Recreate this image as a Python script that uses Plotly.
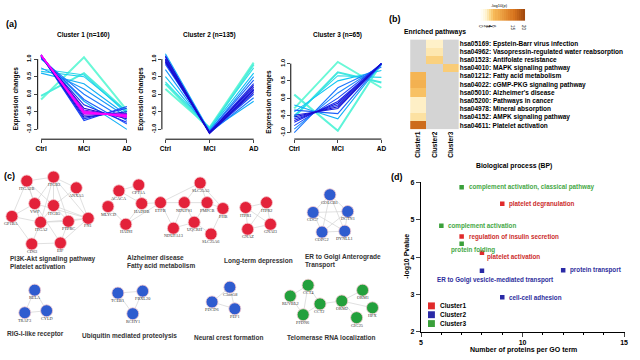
import plotly.graph_objects as go
from plotly.colors import sample_colorscale

W, H = 640, 360
FONT = "Arial, Liberation Sans, sans-serif"
SERIF = "Liberation Serif, Times New Roman, serif"

# ---------------- (a) expression profiles ----------------
stages = ["Ctrl", "MCI", "AD"]
c1_ctrl = [-0.15, -0.05, 0.72, 0.65, 0.60, 0.75, 1.05, 1.00, 1.05, 1.10, 1.10, 1.05, 1.10, 1.10, 1.12, 1.10, 1.12, 1.10, 1.12, 1.10, 1.11, 1.12, 1.10]
c1_mci = [1.05, 0.60, 0.55, 0.50, 0.30, 0.15, -0.20, 0.00, -0.15, -0.75, -0.70, -0.30, -0.65, -0.40, -0.60, -0.45, -0.55, -0.50, -0.52, -0.48, -0.56, -0.50, -0.53]
c1_ad = [-0.45, -0.50, -0.55, -0.50, -0.60, -0.65, -1.00, -0.75, -0.85, -0.35, -0.40, -0.80, -0.50, -0.70, -0.55, -0.65, -0.58, -0.62, -0.60, -0.66, -0.57, -0.63, -0.61]
c1_mem = [0.28, 0.32, 0.38, 0.40, 0.45, 0.48, 0.45, 0.52, 0.55, 0.58, 0.60, 0.62, 0.66, 0.70, 0.74, 0.78, 0.82, 0.86, 0.88, 0.90, 0.92, 0.94, 0.95]

c2_ctrl = [0.15, 0.30, 0.35, 0.50, 1.15, 0.70, 1.10, 0.85, 1.00, 0.90, 1.05, 0.95, 1.00, 0.98, 1.08, 0.92]
c2_mci = [-0.95, -1.00, -0.95, -1.00, -1.05, -1.05, -1.10, -1.05, -1.10, -1.08, -1.10, -1.08, -1.10, -1.12, -1.10, -1.09]
c2_ad = [0.90, 0.85, 0.75, 0.60, -0.20, 0.50, -0.10, 0.40, 0.00, 0.30, 0.10, 0.20, 0.15, 0.12, 0.05, 0.25]
c2_mem = [0.28, 0.32, 0.36, 0.42, 0.45, 0.48, 0.52, 0.55, 0.58, 0.60, 0.62, 0.64, 0.65, 0.66, 0.67, 0.68]

c3_ctrl = [-0.30, 0.10, -0.55, -0.50, -0.40, -0.20, -0.90, -1.00, -0.35, -0.80, -0.60, -0.70, -0.50, -0.65, -0.55]
c3_mci = [1.05, -0.95, 0.75, 0.65, 0.50, -0.60, 0.15, 0.30, -0.45, 0.00, -0.20, -0.10, -0.30, -0.15, -0.25]
c3_ad = [0.30, 1.00, 0.45, 0.60, 0.80, 1.00, 0.95, 0.90, 1.00, 1.00, 1.00, 1.00, 1.00, 1.00, 1.00]
c3_mem = [0.28, 0.30, 0.34, 0.38, 0.42, 0.45, 0.50, 0.52, 0.55, 0.58, 0.60, 0.62, 0.64, 0.66, 0.68]

cluster_titles = ["Cluster 1 (n=160)", "Cluster 2 (n=135)", "Cluster 3 (n=65)"]

# ---------------- (b) enriched pathways heatmap ----------------
heat_clusters = ["Cluster1", "Cluster2", "Cluster3"]
pathways = [
    "hsa05169: Epstein-Barr virus infection",
    "hsa04962: Vasopressin-regulated water reabsorption",
    "hsa01523: Antifolate resistance",
    "hsa04010: MAPK signaling pathway",
    "hsa01212: Fatty acid metabolism",
    "hsa04022: cGMP-PKG signaling pathway",
    "hsa05010: Alzheimer's disease",
    "hsa05200: Pathways in cancer",
    "hsa04978: Mineral absorption",
    "hsa04152: AMPK signaling pathway",
    "hsa04611: Platelet activation",
]
pw_cluster1 = [None, None, None, None, 6.5, 7.0, 5.5, 2.3, 2.3, 3.4, 16.0]
pw_cluster2 = [2.2, 3.0, 4.5, None, None, None, None, None, None, None, None]
pw_cluster3 = [None, None, None, 4.8, None, None, None, None, None, None, None]
cbar_ticks = [0, 2, 3, 4, 6, 15, 20]
cbar_levels = list(range(0, 21))   # colour key steps of -log10(p)

# ---------------- (c) PPI networks ----------------
node_names = ["ITGA2B", "ITGB3", "ANXA5", "VWF", "ITGB5", "GP1BA", "ITGA2", "PTPRC", "FN1", "CD63", "EIF",
              "ACACA", "CPT1A", "MLYCD", "HADHB", "HADH", "ETFB", "NDUFS1", "PMPCB", "SLC25A5", "NDUFA13", "UQCRH", "SLC25A6", "PHB",
              "ITPR1", "ITPR2", "GNAZ", "GNAI3",
              "GOLGB1", "COG7", "DCTN1", "COPG2", "DYNLL1",
              "RELA", "TRAF3", "CYLD",
              "TCEB1", "FBXL20", "RCHY1",
              "C3orf58", "PDCD6", "PEF1",
              "CCT4", "RUVBL2", "CCT2", "PFDN6", "ORM2", "ORM1", "HPX", "GIG25"]
node_x = [25, 52, 75, 33, 52, 10, 39, 67, 87, 30, 59,
          118, 138, 107, 141, 125, 160, 184, 207, 200, 173, 194, 211, 223,
          246, 267, 248, 271,
          331, 314, 349, 323, 346,
          33, 23, 45,
          117, 142, 132,
          230, 212, 235,
          309, 291, 321, 304, 343, 364, 374, 358]
node_y = [181, 177, 188, 204, 206, 217, 223, 222, 219, 245, 244,
          191, 185, 207, 204, 225, 203, 203, 203, 183, 229, 223, 235, 209,
          208, 203, 230, 225,
          195, 213, 212, 233, 232,
          292, 315, 313,
          295, 293, 316,
          289, 304, 311,
          287, 298, 306, 317, 303, 292, 310, 320]
node_cluster = ["Cluster1"] * 28 + ["Cluster2"] * 14 + ["Cluster3"] * 8
edges = [("ITGA2B", "ITGB3"), ("ITGA2B", "VWF"), ("ITGA2B", "GP1BA"), ("ITGA2B", "ITGB5"), ("ITGA2B", "ITGA2"),
         ("ITGB3", "ANXA5"), ("ITGB3", "VWF"), ("ITGB3", "ITGB5"), ("ITGB3", "FN1"), ("ITGB3", "ITGA2"), ("ITGB3", "PTPRC"),
         ("VWF", "GP1BA"), ("VWF", "ITGA2"), ("VWF", "FN1"), ("VWF", "EIF"), ("ITGB5", "FN1"), ("ITGB5", "ITGA2"),
         ("ITGB5", "PTPRC"), ("GP1BA", "ITGA2"), ("GP1BA", "CD63"), ("ITGA2", "FN1"), ("ITGA2", "PTPRC"), ("ITGA2", "CD63"),
         ("PTPRC", "FN1"), ("PTPRC", "EIF"), ("FN1", "EIF"), ("CD63", "EIF"), ("ANXA5", "FN1"), ("ANXA5", "ITGB5"),
         ("ACACA", "CPT1A"), ("ACACA", "MLYCD"), ("ACACA", "HADHB"), ("CPT1A", "HADHB"), ("MLYCD", "HADH"),
         ("HADHB", "HADH"), ("HADHB", "ETFB"), ("HADH", "ETFB"), ("ETFB", "NDUFS1"), ("ETFB", "NDUFA13"),
         ("ETFB", "SLC25A5"), ("NDUFS1", "PMPCB"), ("NDUFS1", "NDUFA13"), ("NDUFS1", "UQCRH"), ("NDUFS1", "SLC25A5"),
         ("PMPCB", "UQCRH"), ("PMPCB", "SLC25A5"), ("PMPCB", "PHB"), ("UQCRH", "NDUFA13"), ("UQCRH", "SLC25A6"),
         ("PHB", "SLC25A6"), ("SLC25A5", "PHB"),
         ("ITPR1", "ITPR2"), ("ITPR1", "GNAI3"), ("ITPR2", "GNAZ"), ("GNAZ", "GNAI3"), ("ITPR1", "GNAZ"), ("ITPR2", "GNAI3"),
         ("GOLGB1", "COG7"), ("GOLGB1", "DCTN1"), ("GOLGB1", "COPG2"), ("GOLGB1", "DYNLL1"), ("COG7", "DCTN1"),
         ("COG7", "COPG2"), ("COG7", "DYNLL1"), ("DCTN1", "COPG2"), ("DCTN1", "DYNLL1"), ("COPG2", "DYNLL1"),
         ("RELA", "TRAF3"), ("RELA", "CYLD"), ("TRAF3", "CYLD"),
         ("TCEB1", "FBXL20"), ("TCEB1", "RCHY1"), ("FBXL20", "RCHY1"),
         ("C3orf58", "PDCD6"), ("C3orf58", "PEF1"), ("PDCD6", "PEF1"),
         ("CCT4", "RUVBL2"), ("CCT4", "CCT2"), ("CCT4", "PFDN6"), ("RUVBL2", "PFDN6"), ("CCT2", "PFDN6"),
         ("CCT2", "ORM2"), ("ORM2", "ORM1"), ("ORM2", "HPX"), ("ORM2", "GIG25")]
module_names = ["PI3K-Akt signaling pathway<br>Platelet activation", "Alzheimer disease<br>Fatty acid metabolism",
                "Long-term depression", "ER to Golgi Anterograde<br>Transport", "RIG-I-like receptor",
                "Ubiquitin mediated proteolysis", "Neural crest formation", "Telomerase RNA localization"]
module_x = [6, 124, 222, 304, 3, 79, 192, 286]
module_y = [254, 253, 262, 252, 337, 339, 340, 340]

# ---------------- (d) GO biological process ----------------
go_terms = ["complement activation, classical pathway", "platelet degranulation", "complement activation",
            "regulation of insulin secretion", "protein folding", "platelet activation", "protein transport",
            "ER to Golgi vesicle-mediated transport", "cell-cell adhesion"]
go_count = [7, 9, 6, 7, 7, 8, 12, 8, 9]
go_logp = [5.87, 5.43, 4.84, 4.55, 4.36, 4.12, 3.65, 3.64, 2.93]
go_cluster = ["Cluster3", "Cluster1", "Cluster3", "Cluster1", "Cluster3", "Cluster1", "Cluster2", "Cluster2", "Cluster2"]
legend_clusters = ["Cluster1", "Cluster2", "Cluster3"]

# ---------------- styles ----------------
mark_col = {"Cluster1": "#e3223a", "Cluster2": "#2f5ccf", "Cluster3": "#23a03c"}
go_col = {"Cluster1": "#e02a2a", "Cluster2": "#2a2aa6", "Cluster3": "#3aa03a"}
go_txt = {"Cluster1": "#cc2c2c", "Cluster2": "#2d2d9c", "Cluster3": "#45a845"}
label_dx = [5, 5, 5, 5, -13, 3, 5, -47, 5]
label_dy = [0, 0, 0, 0, -6, -4, 0, -9, 0]
mem_scale = [[0.0, "#7fffd4"], [0.12, "#45ecdc"], [0.25, "#10c4f4"], [0.38, "#1e7cff"],
             [0.52, "#1a2cf0"], [0.62, "#1808c8"], [0.78, "#6a10e8"], [0.9, "#c010f8"], [1.0, "#ff00ff"]]
heat_scale = [[0.0, "#fffdf2"], [0.1, "#fff3cf"], [0.15, "#fde7b0"], [0.2, "#fbd98c"], [0.3, "#f7b957"],
              [0.75, "#d7741e"], [1.0, "#a34a0e"]]


def xd(p0, p1):
    return [p0 / W, p1 / W]


def yd(p0, p1):
    return [1 - p1 / H, 1 - p0 / H]


fig = go.Figure()
layout = dict(width=W, height=H, margin=dict(l=0, r=0, t=0, b=0), paper_bgcolor="white",
              plot_bgcolor="rgba(0,0,0,0)", showlegend=False, font=dict(family=FONT, color="black"))
shapes = []
annotations = []

# panel (a)
a_sets = [(c1_ctrl, c1_mci, c1_ad, c1_mem), (c2_ctrl, c2_mci, c2_ad, c2_mem), (c3_ctrl, c3_mci, c3_ad, c3_mem)]
a_xdom = [(36.0, 129.5), (161.4, 257.6), (291.5, 386.5)]
a_ydom = [(49.9, 138.5), (49.9, 138.5), (56.4, 138.4)]
a_yrng = [(-1.28, 1.2), (-1.28, 1.2), (-1.19, 1.15)]
for k in range(3):
    xa = "x" if k == 0 else f"x{k+1}"
    ya = "y" if k == 0 else f"y{k+1}"
    ctrl, mci, ad, mem = a_sets[k]
    for i in range(len(ctrl)):
        t = min(max((mem[i] - 0.25) / 0.7, 0), 1)
        col = sample_colorscale(mem_scale, [t])[0]
        fig.add_trace(go.Scatter(x=[0, 1, 2], y=[ctrl[i], mci[i], ad[i]], mode="lines", xaxis=xa, yaxis=ya,
                                 line=dict(color=col, width=2.0 if mem[i] < 0.35 else 1.1), hoverinfo="skip"))
    xk = "xaxis" if k == 0 else f"xaxis{k+1}"
    yk = "yaxis" if k == 0 else f"yaxis{k+1}"
    layout[xk] = dict(domain=xd(*a_xdom[k]), range=[-0.08, 2.08], anchor=ya, showgrid=False, zeroline=False,
                      showline=False, tickvals=[0, 1, 2], ticktext=stages, ticks="outside", ticklen=3,
                      tickwidth=1, tickfont=dict(size=6.5, weight="bold", color="black"))
    layout[yk] = dict(domain=yd(*a_ydom[k]), range=list(a_yrng[k]), anchor=xa, showgrid=False, zeroline=False,
                      showline=False, tickvals=[-1, -0.5, 0, 0.5, 1],
                      ticktext=["-1.0", "-0.5", "0.0", "0.5", "1.0"], ticks="outside",
                      ticklen=3, tickwidth=1, tickangle=-90, tickfont=dict(size=5.5, weight="bold", color="black"))
    shapes.append(dict(type="line", xref=f"{xa} domain", x0=0, x1=0, yref=ya, y0=-1, y1=1,
                       line=dict(color="black", width=1)))
    shapes.append(dict(type="line", xref=xa, x0=0, x1=2, yref=f"{ya} domain", y0=0, y1=0,
                       line=dict(color="black", width=1)))
    annotations.append(dict(text=f"<b>{cluster_titles[k]}</b>", xref="x6", yref="y6",
                            x=(a_xdom[k][0] + a_xdom[k][1]) / 2, y=33, showarrow=False, font=dict(size=6.5)))
    annotations.append(dict(text="<b>Expression changes</b>", xref="x6", yref="y6", x=a_xdom[k][0] - 22,
                            y=(a_ydom[k][0] + a_ydom[k][1]) / 2 + 3, textangle=-90, showarrow=False,
                            font=dict(size=6.5)))

# panel (b)
pw_cols = [pw_cluster1, pw_cluster2, pw_cluster3]
z = [[pw_cols[c][r] for c in range(3)] for r in range(len(pathways))]
mask = [[1 if v is None else None for v in row] for row in z]
fig.add_trace(go.Heatmap(x=heat_clusters, y=pathways, z=mask, xaxis="x4", yaxis="y4",
                         colorscale=[[0, "#d4d4d4"], [1, "#d4d4d4"]], showscale=False, hoverinfo="skip"))
fig.add_trace(go.Heatmap(x=heat_clusters, y=pathways, z=z, xaxis="x4", yaxis="y4", zmin=0, zmax=20,
                         colorscale=heat_scale, showscale=False, hoverinfo="skip"))
layout["xaxis4"] = dict(domain=xd(412, 461), anchor="y4", showgrid=False, zeroline=False, showline=False,
                        ticks="", tickangle=-90, tickfont=dict(size=6.5, weight="bold", color="black"))
layout["yaxis4"] = dict(domain=yd(37, 128.5), anchor="x4", side="right", autorange="reversed", showgrid=False,
                        zeroline=False, showline=False, ticks="",
                        tickfont=dict(size=6.5, weight="bold", color="black"))
# colour key
fig.add_trace(go.Heatmap(x=cbar_levels, y=[0], z=[cbar_levels], xaxis="x7", yaxis="y7", zmin=0, zmax=20,
                         colorscale=heat_scale, showscale=False, hoverinfo="skip"))
layout["xaxis7"] = dict(domain=xd(483, 528), anchor="y7", range=[-0.5, 20.5], showgrid=False, zeroline=False,
                        showline=False, tickvals=cbar_ticks, ticks="", ticklabelstandoff=1,
                        tickfont=dict(size=4.5, color="black"))
layout["yaxis7"] = dict(domain=yd(6, 18), anchor="x7", range=[-0.5, 0.5], visible=False)
annotations.append(dict(text="-log10(p)", xref="x6", yref="y6", x=502, y=3, showarrow=False,
                        font=dict(size=4)))
annotations.append(dict(text="<b>Enriched pathways</b>", xref="x6", yref="y6", x=437, y=29, showarrow=False,
                        font=dict(size=6.8)))

# panel (d)
for cl in legend_clusters:
    idx = [i for i in range(len(go_terms)) if go_cluster[i] == cl]
    fig.add_trace(go.Scatter(x=[go_count[i] for i in idx], y=[go_logp[i] for i in idx], mode="markers",
                             xaxis="x5", yaxis="y5", marker=dict(symbol="square", size=4.5, color=go_col[cl]),
                             hoverinfo="skip"))
for i in range(len(go_terms)):
    annotations.append(dict(text=f"<b>{go_terms[i]}</b>", xref="x5", yref="y5", x=go_count[i], y=go_logp[i],
                            xanchor="left", yanchor="middle", xshift=label_dx[i], yshift=label_dy[i],
                            showarrow=False, font=dict(size=6.3, color=go_txt[go_cluster[i]])))
layout["xaxis5"] = dict(domain=xd(423, 628.4), range=[5, 15.02], anchor="y5", showgrid=False, zeroline=False,
                        showline=True, linecolor="black", linewidth=1.3, tickvals=[5, 10, 15], ticks="outside",
                        ticklen=4, tickwidth=1.2, tickfont=dict(size=7, weight="bold", color="black"),
                        minor=dict(dtick=1, ticks="outside", ticklen=2, tickwidth=1, tickcolor="black"))
layout["yaxis5"] = dict(domain=yd(181.7, 334.5), range=[2, 6.02], anchor="x5", showgrid=False, zeroline=False,
                        showline=True, linecolor="black", linewidth=1.3, tickvals=[2, 3, 4, 5, 6],
                        ticks="outside", ticklen=4, tickwidth=1.2,
                        tickfont=dict(size=7, weight="bold", color="black"))
for j, cl in enumerate(legend_clusters):
    shapes.append(dict(type="rect", xref="x6", yref="y6", x0=430, x1=437, y0=304.5 + 9 * j, y1=311.5 + 9 * j,
                       fillcolor=go_col[cl], line=dict(width=0)))
    annotations.append(dict(text=f"<b>{cl}</b>", xref="x6", yref="y6", x=440, y=308 + 9 * j, xanchor="left",
                            showarrow=False, font=dict(size=6.5)))
annotations.append(dict(text="<b>Biological process (BP)</b>", xref="x6", yref="y6", x=517, y=166,
                        showarrow=False, font=dict(size=6.8)))
annotations.append(dict(text="<b>Number of proteins per GO term</b>", xref="x6", yref="y6", x=526, y=353,
                        showarrow=False, font=dict(size=7)))
annotations.append(dict(text="<b>-log10 Pvalue</b>", xref="x6", yref="y6", x=409, y=258, textangle=-90,
                        showarrow=False, font=dict(size=7)))

# panel (c) on a full-page pixel axis
pos = {n: (node_x[i], node_y[i]) for i, n in enumerate(node_names)}
ex, ey = [], []
for a, b in edges:
    ex += [pos[a][0], pos[b][0], None]
    ey += [pos[a][1], pos[b][1], None]
fig.add_trace(go.Scatter(x=ex, y=ey, mode="lines", xaxis="x6", yaxis="y6",
                         line=dict(color="#d2d2d2", width=0.7), hoverinfo="skip"))
for cl in legend_clusters:
    idx = [i for i in range(len(node_names)) if node_cluster[i] == cl]
    fig.add_trace(go.Scatter(x=[node_x[i] for i in idx], y=[node_y[i] for i in idx], mode="markers",
                             xaxis="x6", yaxis="y6",
                             marker=dict(size=12, color=mark_col[cl], line=dict(color="#f4c9cf", width=0.8)),
                             hoverinfo="skip"))
for i, n in enumerate(node_names):
    annotations.append(dict(text=n, xref="x6", yref="y6", x=node_x[i], y=node_y[i], yshift=-7.5,
                            showarrow=False, font=dict(size=4.3, family=SERIF, color="#333333")))
for k, t in enumerate(module_names):
    two = "<br>" in t
    annotations.append(dict(text=f"<b>{t}</b>", xref="x6", yref="y6", x=module_x[k], y=module_y[k],
                            xanchor="left", yanchor="top" if two else "middle", align="left", showarrow=False,
                            font=dict(size=6.5, color="#333333")))
layout["xaxis6"] = dict(domain=[0, 1], range=[0, W], anchor="y6", visible=False, fixedrange=True)
layout["yaxis6"] = dict(domain=[0, 1], range=[H, 0], anchor="x6", visible=False, fixedrange=True)

for lab, lx, ly in [("(a)", 10, 21), ("(b)", 397, 16), ("(c)", 8, 176), ("(d)", 399, 177)]:
    annotations.append(dict(text=f"<b>{lab}</b>", xref="x6", yref="y6", x=lx, y=ly, showarrow=False,
                            font=dict(size=9)))

layout["shapes"] = shapes
layout["annotations"] = annotations
fig.update_layout(**layout)
fig.write_html("out.html", config={"displayModeBar": False},
               post_script="document.body.style.margin='0';document.body.style.padding='0';")
